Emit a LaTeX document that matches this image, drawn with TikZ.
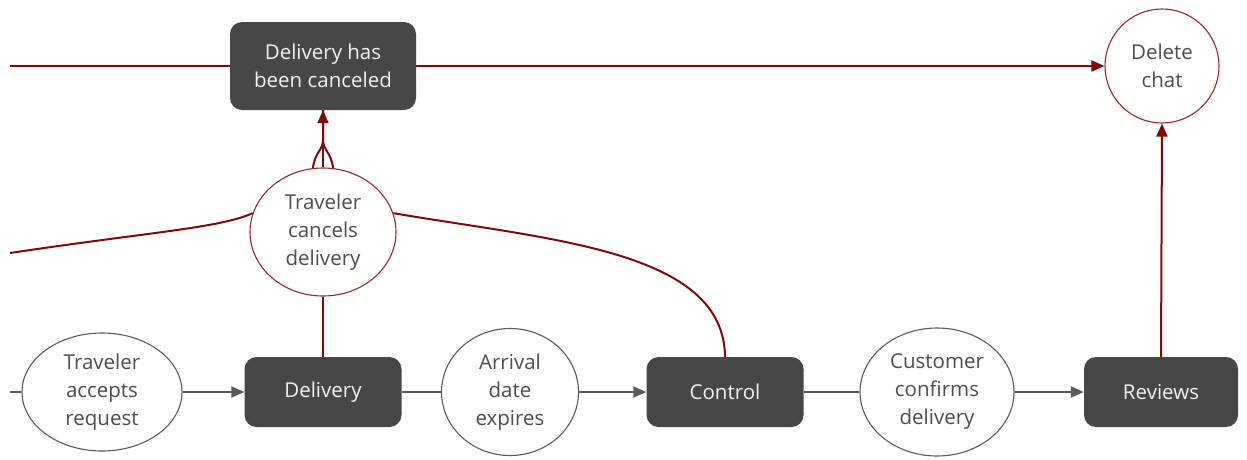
\documentclass[tikz,border=0pt]{standalone}
\usepackage{fontspec}
\setmainfont{Open Sans}
\usetikzlibrary{shapes.geometric,arrows.meta}
\definecolor{lred}{RGB}{130,8,8}
\definecolor{ored}{RGB}{150,40,40}
\definecolor{lgray}{RGB}{90,90,90}
\definecolor{boxfill}{RGB}{71,71,71}
\definecolor{boxtext}{RGB}{242,242,242}
\definecolor{elltext}{RGB}{77,77,77}
\tikzset{
  darkbox/.style={rectangle, rounded corners=12pt, fill=boxfill, text=boxtext, inner sep=0pt, align=center, font=\fontsize{20.5}{28}\selectfont},
  grayell/.style={ellipse, draw=lgray, line width=1.1pt, fill=white, text=elltext, inner sep=0pt, align=center, font=\fontsize{20.5}{28}\selectfont},
  redell/.style={ellipse, draw=ored, line width=1.1pt, fill=white, text=elltext, inner sep=0pt, align=center, font=\fontsize{20.5}{28}\selectfont},
  redline/.style={draw=lred, line width=2pt},
  grayline/.style={draw=lgray, line width=2pt},
  tip/.style={-{Triangle[length=13pt,width=11pt]}},
}
\begin{document}
\begin{tikzpicture}[x=1pt,y=-1pt]
\useasboundingbox (0,0) rectangle (1247,459);
% nodes
\node[darkbox, minimum width=186pt, minimum height=88pt] (dhc) at (323,66) {Delivery has\\been canceled};
\node[redell, minimum width=114pt, minimum height=114pt] (chat) at (1162,66) {Delete\\chat};
\node[redell, minimum width=146pt, minimum height=128pt] (tcd) at (323,232) {Traveler\\cancels\\delivery};
\node[grayell, minimum width=160pt, minimum height=118pt] (tar) at (102,392) {Traveler\\accepts\\request};
\node[darkbox, minimum width=157pt, minimum height=70pt] (delivery) at (323,392) {Delivery};
\node[grayell, minimum width=137pt, minimum height=127pt] (ade) at (510,392) {Arrival\\date\\expires};
\node[darkbox, minimum width=157pt, minimum height=70pt] (control) at (725,392) {Control};
\node[grayell, minimum width=154pt, minimum height=128pt] (ccd) at (937,392) {Customer\\confirms\\delivery};
\node[darkbox, minimum width=154pt, minimum height=70pt] (reviews) at (1161,392) {Reviews};
\coordinate (topin) at (10,66);
\coordinate (leftin) at (10,253);
\coordinate (botin) at (10,392);
% top line
\draw[redline] (topin) -- (dhc.west);
\draw[redline, tip] (dhc.east) -- (chat.west);
\draw[redline, tip] (reviews.north) -- (chat.south);
% cancel transitions
\draw[redline] (leftin) .. controls (150,232) and (220,228) .. (tcd.165);
\draw[redline] (tcd.15) .. controls (550,240) and (724,250) .. (control.north);
\draw[redline] (delivery.north) -- (tcd.south);
\draw[redline] (tcd.99) .. controls (315,152) and (323,150) .. (323,140) -- (dhc.south);
\draw[redline] (tcd.81) .. controls (331,152) and (323,150) .. (323,140) -- (dhc.south);
\draw[redline, tip] (tcd.north) -- (dhc.south);
% bottom row
\draw[grayline] (botin) -- (tar.west);
\draw[grayline, tip] (tar.east) -- (delivery.west);
\draw[grayline] (delivery.east) -- (ade.west);
\draw[grayline, tip] (ade.east) -- (control.west);
\draw[grayline] (control.east) -- (ccd.west);
\draw[grayline, tip] (ccd.east) -- (reviews.west);
\end{tikzpicture}
\end{document}
